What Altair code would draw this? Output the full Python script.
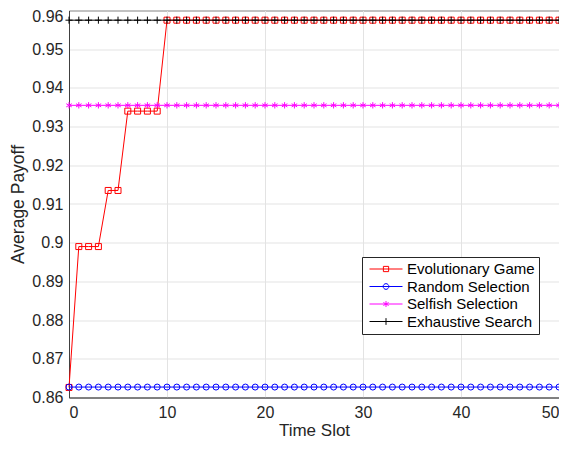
import altair as alt
import pandas as pd

x_vals = list(range(51))
series_names = ["Evolutionary Game", "Random Selection", "Selfish Selection", "Exhaustive Search"]
evo = [0.8626, 0.899, 0.899, 0.899, 0.9135, 0.9135, 0.934, 0.934, 0.934, 0.934] + [0.9575] * 41
rand = [0.8627] * 51
selfish = [0.9355] * 51
exh = [0.9575] * 51
y_ticks = [0.86, 0.87, 0.88, 0.89, 0.9, 0.91, 0.92, 0.93, 0.94, 0.95, 0.96]
x_ticks = [0, 10, 20, 30, 40, 50]
colors = ["#ff0000", "#0000ff", "#ff00ff", "#000000"]

rows = []
for name, vals in zip(series_names, [evo, rand, selfish, exh]):
    for xv, yv in zip(x_vals, vals):
        rows.append({"t": xv, "v": yv, "s": name})
df = pd.DataFrame(rows)

FONT = "Liberation Sans"
xs = alt.Scale(domain=[0, 50], nice=False)
ys = alt.Scale(domain=[0.86, 0.96], nice=False, zero=False)

X = alt.X("t:Q", scale=xs, title="Time Slot",
          axis=alt.Axis(values=x_ticks, format="d", labelPadding=7, titlePadding=2,
                        titleFontSize=17))
Y = alt.Y("v:Q", scale=ys, title="Average Payoff",
          axis=alt.Axis(values=y_ticks, format="~g", labelPadding=6, titlePadding=4,
                        labelOffset={"condition": {"test": "datum.value > 0.955", "value": 5.5},
                                     "value": 0}))

base = alt.Chart(df)

marker_paths = {
    "Evolutionary Game": "square",
    "Random Selection": "circle",
    "Selfish Selection": "M0,-1V1M-0.87,-0.5L0.87,0.5M-0.87,0.5L0.87,-0.5",
    "Exhaustive Search": "M-1,0H1M0,-1V1",
}
marker_sizes = {"Evolutionary Game": 36, "Random Selection": 36,
                "Selfish Selection": 40, "Exhaustive Search": 50}

layers = []
for name, col in zip(series_names, colors):
    sub = base.transform_filter(alt.datum.s == name)
    layers.append(sub.mark_line(strokeWidth=1, color=col).encode(x=X, y=Y))
    layers.append(
        sub.mark_point(
            shape=marker_paths[name], filled=False, size=marker_sizes[name],
            strokeWidth=1, color=col, opacity=1
        ).encode(x=X, y=Y)
    )

legend_paths = [
    "M-2.2,0H2.2M-0.35,-0.35H0.35V0.35H-0.35Z",
    "M-2.2,0H2.2M-0.38,0A0.38,0.38 0 1,0 0.38,0A0.38,0.38 0 1,0 -0.38,0Z",
    "M-2.2,0H2.2M0,-0.4V0.4M-0.35,-0.2L0.35,0.2M-0.35,0.2L0.35,-0.2",
    "M-2.2,0H2.2M0,-0.45V0.45",
]
leg = alt.Legend(title=None, orient="none", legendX=293, legendY=246.5,
                 symbolSize=225, symbolStrokeWidth=1, symbolOpacity=1,
                 labelFont=FONT, labelFontSize=15, labelColor="#000",
                 strokeColor="#262626", fillColor="white", padding=4,
                 rowPadding=1.5, labelOffset=13, symbolOffset=12)
legend_layer = base.transform_filter(alt.datum.t == 0).mark_point(
    filled=False, opacity=0
).encode(
    x=X, y=Y,
    color=alt.Color("s:N", scale=alt.Scale(domain=series_names, range=colors),
                    legend=leg, sort=series_names),
    shape=alt.Shape("s:N", scale=alt.Scale(domain=series_names, range=legend_paths),
                    legend=leg, sort=series_names),
)
layers.append(legend_layer)

chart = alt.layer(*layers).properties(
    width=490, height=387,
    autosize=alt.AutoSizeParams(type="none"),
    padding={"left": 61, "top": 2.5, "right": 0, "bottom": 44},
).configure_view(
    stroke="#404040", strokeWidth=1
).configure_axis(
    labelFont=FONT, titleFont=FONT, labelFontSize=16, titleFontSize=17.5,
    labelColor="#262626", titleColor="#262626", titleFontWeight="normal",
    domainColor="#404040", grid=True, gridColor="#e3e3e3", ticks=False
)

chart.save("out.html", embed_options={"renderer": "svg", "actions": False})
